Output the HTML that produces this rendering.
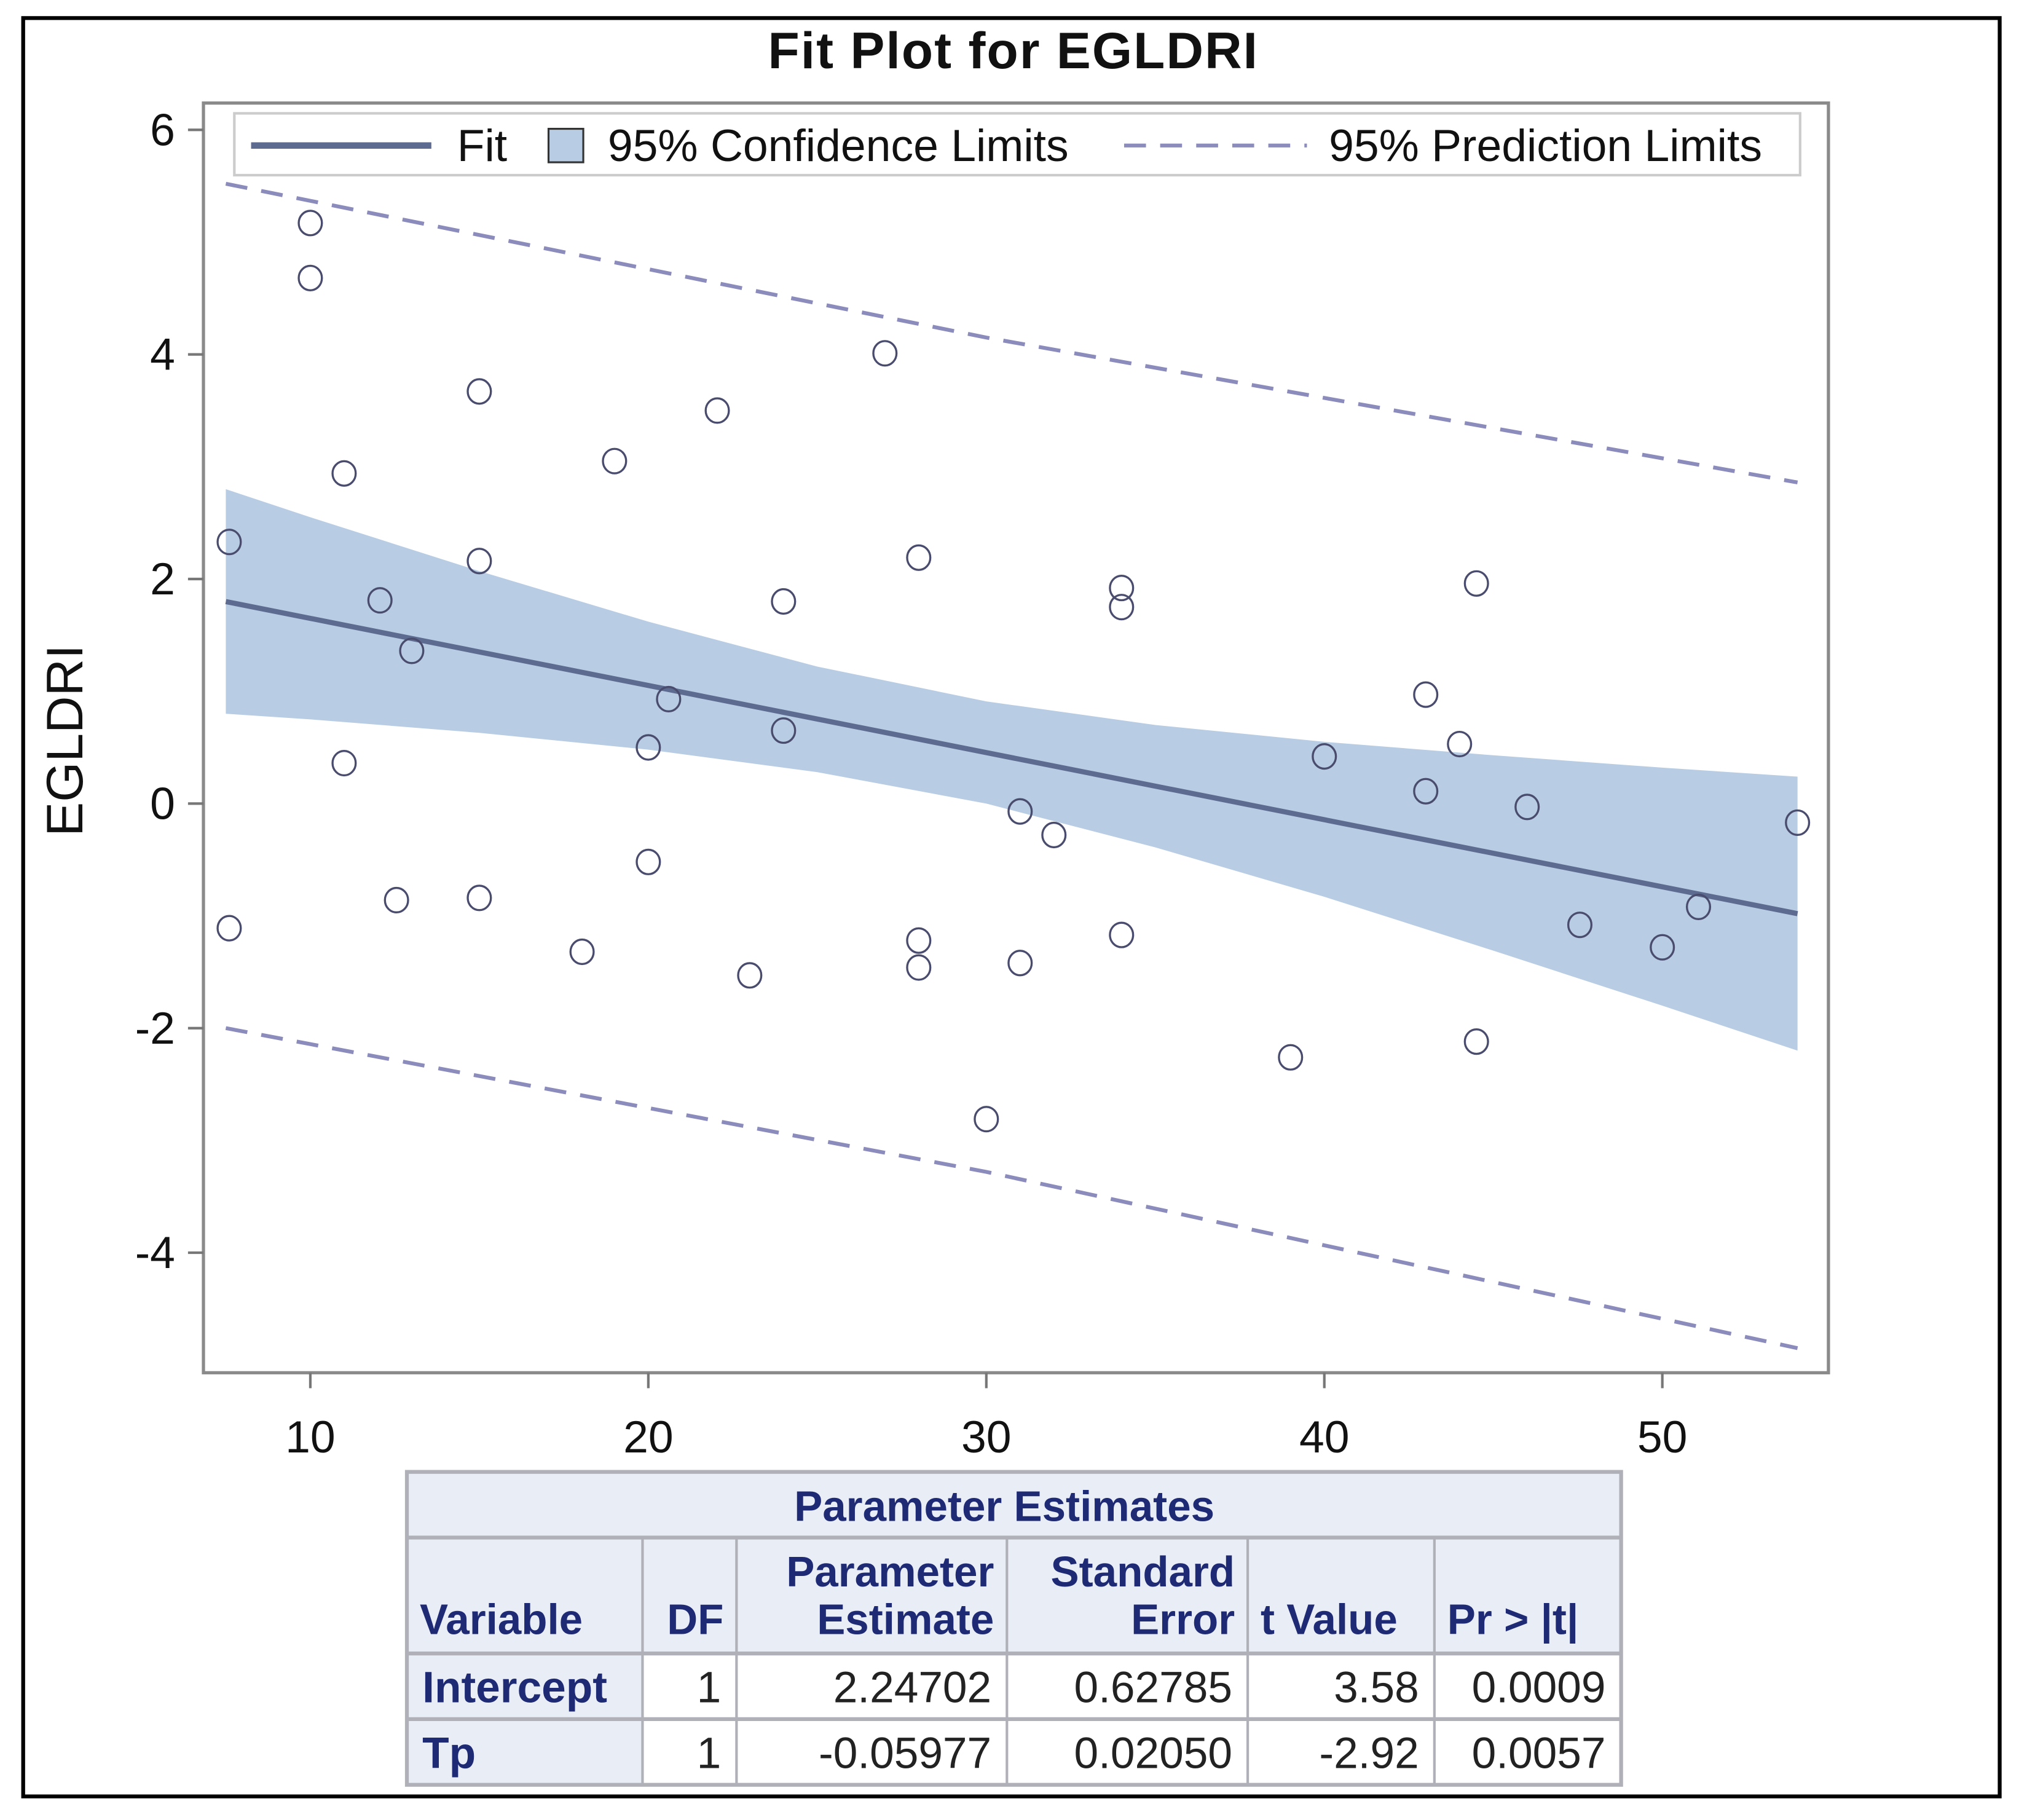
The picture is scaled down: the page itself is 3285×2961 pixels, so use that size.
<!DOCTYPE html>
<html><head><meta charset="utf-8"><style>
html,body{margin:0;padding:0;background:#fff;}
svg{display:block;font-family:"Liberation Sans",Arial,sans-serif;}
</style></head><body>
<svg id="chart" width="3285" height="2961" viewBox="0 0 1568 1413.3" xmlns="http://www.w3.org/2000/svg">
<rect x="0" y="0" width="1568" height="1413.3" fill="#fff"/>
<rect x="18" y="14" width="1535" height="1381" fill="none" stroke="#000" stroke-width="3"/>
<text x="787" y="53" text-anchor="middle" font-size="40" font-weight="bold" fill="#111" letter-spacing="1">Fit Plot for EGLDRI</text>
<text transform="translate(64,575) rotate(-90)" text-anchor="middle" font-size="40" fill="#111">EGLDRI</text>
<g id="plot"></g>
<g id="legend">
<rect x="182" y="88" width="1216" height="48" fill="#fff" stroke="#ccc" stroke-width="2"/>
<line x1="195" y1="113" x2="335" y2="113" stroke="#5c6b8f" stroke-width="5"/>
<text x="355" y="125" font-size="35" fill="#111">Fit</text>
<rect x="426" y="100" width="27" height="26" fill="#b8cce4" stroke="#333" stroke-width="1.5"/>
<text x="472" y="125" font-size="35" fill="#111">95% Confidence Limits</text>
<line x1="873" y1="113" x2="1015" y2="113" stroke="#8c8cbc" stroke-width="3" stroke-dasharray="17,11"/>
<text x="1032" y="125" font-size="35" fill="#111">95% Prediction Limits</text>
</g>
<g id="table"></g>
</svg>
<script>
const xTicks=[10,20,30,40,50];
const yTicks=[-4,-2,0,2,4,6];
const ptX=[7.6,7.6,10,10,11,11,12.06,12.55,13,15,15,15,18.04,19,20,20,20.6,22.04,23,24,24,27,28,28,28,30,31,31,32,34,34,34,39,40,43,43,44,44.5,44.5,46,47.56,50,51.07,54];
const ptY=[2.33,-1.11,5.17,4.68,2.94,0.36,1.81,-0.86,1.36,3.67,2.16,-0.84,-1.32,3.05,0.5,-0.52,0.93,3.5,-1.53,1.8,0.65,4.01,2.19,-1.22,-1.46,-2.81,-0.07,-1.42,-0.28,1.92,1.75,-1.17,-2.26,0.42,0.97,0.11,0.53,1.96,-2.12,-0.03,-1.08,-1.28,-0.92,-0.17];
const intercept=2.24702, slope=-0.05977;
const fitX=[7.5,54];
const bandX=[7.5,10,15,20,25,30,35,40,45,50,54];
const bandUpper=[2.80,2.55,2.07,1.62,1.22,0.91,0.70,0.55,0.43,0.32,0.24];
const bandLower=[0.80,0.75,0.63,0.48,0.28,0.00,-0.39,-0.83,-1.31,-1.80,-2.20];
const predX=[7.5,30,54];
const predUpper=[5.52,4.15,2.86];
const predLower=[-2.0,-3.28,-4.85];
const tblHead=[["Variable"],["DF"],["Parameter","Estimate"],["Standard","Error"],["t Value"],["Pr > |t|"]];
const tblRow1=["Intercept","1","2.24702","0.62785","3.58","0.0009"];
const tblRow2=["Tp","1","-0.05977","0.02050","-2.92","0.0057"];

const NS="http://www.w3.org/2000/svg";
const L=158,T=80,R=1420,B=1066;
const sx=v=>241+(v-10)*26.25;
const sy=v=>624-v*87.2;
function mk(tag,attrs,parent,txt){const e=document.createElementNS(NS,tag);for(const k in attrs)e.setAttribute(k,attrs[k]);if(txt!==undefined)e.textContent=txt;parent.appendChild(e);return e;}
const plot=document.getElementById('plot');
let d="M"+bandX.map((x,i)=>sx(x)+","+sy(bandUpper[i])).join(" L");
for(let i=bandX.length-1;i>=0;i--)d+=" L"+sx(bandX[i])+","+sy(bandLower[i]);
let band=mk('path',{d:d+"Z",fill:"#b8cce4"},plot);


[[predUpper,'prediction-upper'],[predLower,'prediction-lower']].forEach(([arr,nm])=>{
 let p=mk('polyline',{points:predX.map((x,i)=>sx(x)+","+sy(arr[i])).join(" "),fill:"none",stroke:"#8c8cbc","stroke-width":3,"stroke-dasharray":"17,11"},plot);
 
 
});
let fl=mk('line',{x1:sx(fitX[0]),y1:sy(intercept+slope*fitX[0]),x2:sx(fitX[1]),y2:sy(intercept+slope*fitX[1]),stroke:"#5c6b8f","stroke-width":4},plot);


ptX.forEach((x,i)=>{
 let c=mk('ellipse',{cx:sx(x),cy:sy(ptY[i]),rx:9,ry:9.5,fill:"none",stroke:"#4a4c6e","stroke-width":1.6},plot);
 
 
});
let fr=mk('rect',{x:L,y:T,width:R-L,height:B-T,fill:"none",stroke:"#8a8a8a","stroke-width":2.5},plot);


yTicks.forEach(v=>{
 mk('line',{x1:L-12,y1:sy(v),x2:L,y2:sy(v),stroke:"#777","stroke-width":2},plot);
 let t=mk('text',{x:L-22,y:sy(v)+12,"text-anchor":"end","font-size":35,fill:"#111"},plot,String(v));
 
 
});
xTicks.forEach(v=>{
 mk('line',{x1:sx(v),y1:B,x2:sx(v),y2:B+12,stroke:"#777","stroke-width":2},plot);
 let t=mk('text',{x:sx(v),y:B+62,"text-anchor":"middle","font-size":35,fill:"#111"},plot,String(v));
 
 
});
const tb=document.getElementById('table');
const cols=[316,499,572,782,969,1114,1259];
const rows=[1143,1194,1284,1335,1386];
mk('rect',{x:316,y:1143,width:943,height:243,fill:"#e9eef6"},tb);
[rows[2],rows[3]].forEach(y=>mk('rect',{x:cols[1],y:y,width:cols[6]-cols[1],height:51,fill:"#fff"},tb));
mk('rect',{x:316,y:1143,width:943,height:243,fill:"none",stroke:"#b0b0b8","stroke-width":3},tb);
rows.slice(1,4).forEach(y=>mk('line',{x1:316,y1:y,x2:1259,y2:y,stroke:"#b0b0b8","stroke-width":3},tb));
cols.slice(1,6).forEach(x=>mk('line',{x1:x,y1:1194,x2:x,y2:1386,stroke:"#b0b0b8","stroke-width":2},tb));
let tt=mk('text',{x:780,y:1181,"text-anchor":"middle","font-size":33,"font-weight":"bold",fill:"#1f2a75"},tb,"Parameter Estimates");


tblHead.forEach((parts,i)=>{
 const left=(i===0||i===4||i===5);
 const x=left?cols[i]+10:cols[i+1]-10;
 parts.forEach((p,j)=>{
  const y=parts.length===2?(j===0?1232:1269):1269;
  let t=mk('text',{x:x,y:y,"text-anchor":left?"start":"end","font-size":33,"font-weight":"bold",fill:"#1f2a75"},tb,p);
  
  
 });
});
[[tblRow1,1322],[tblRow2,1373]].forEach(([r,y])=>{
 r.forEach((v,i)=>{
  const left=i===0;
  let t=mk('text',{x:left?cols[0]+12:cols[i+1]-12,y:y,"text-anchor":left?"start":"end","font-size":34,"font-weight":left?"bold":"normal",fill:left?"#1f2a75":"#222"},tb,v);
  
  
 });
});
</script>
</body></html>
